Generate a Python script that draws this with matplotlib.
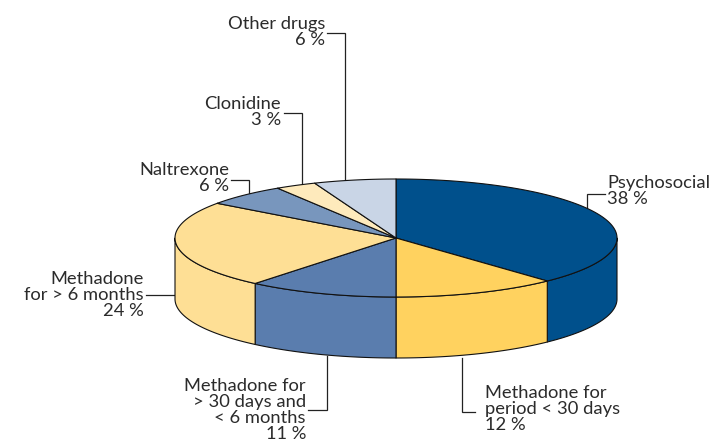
import numpy as np
import matplotlib
matplotlib.use('Agg')
import matplotlib.pyplot as plt

# slices, clockwise from 12 o'clock
names = ['Psychosocial', 'Methadone for\nperiod < 30 days', 'Methadone for\n> 30 days and\n< 6 months',
         'Methadone\nfor > 6 months', 'Naltrexone', 'Clonidine', 'Other drugs']
values = [38, 12, 11, 24, 6, 3, 6]
colors = ['#00508c', '#ffd25f', '#5a7dae', '#fedf95', '#7896bd', '#feeabc', '#c9d5e6']

# label anchor (x, y of the block centre), alignment
label_pos = [(607, 191), (485, 409), (306, 410), (144, 295), (229, 178), (281, 112), (325, 32)]
label_ha = ['left', 'left', 'right', 'right', 'right', 'right', 'right']
# leader lines
leaders_x = [[605, 587, 587], [475, 462, 462], [308, 327, 327], [146, 175],
             [231, 249, 249], [284, 302, 302], [327, 345, 345]]
leaders_y = [[194, 194, 209], [412, 412, 358], [410, 410, 356], [295, 295],
             [180, 180, 194], [113, 113, 185], [33, 33, 181]]

cx, cy = 396, 238
rx, ry = 221, 59
depth = 61
line_col = '#111111'

plt.rcParams['font.family'] = ['Lato', 'DejaVu Sans']

fig = plt.figure(figsize=(7.22, 4.46), dpi=100)
ax = fig.add_axes([0, 0, 1, 1])
ax.set_xlim(0, 722)
ax.set_ylim(446, 0)
ax.axis('off')


def arc(f0, f1):
    # points on the top ellipse between two fractions of the pie
    n = max(int(abs(f1 - f0) * 720), 2)
    t = np.linspace(f0, f1, n) * 2 * np.pi
    return cx + rx * np.sin(t), cy - ry * np.cos(t)


edges = np.cumsum([0] + values) / sum(values)

# side wall, only the front half of the rim shows
for i in range(len(values)):
    f0 = max(edges[i], 0.25)
    f1 = min(edges[i + 1], 0.75)
    if f1 <= f0:
        continue
    x, y = arc(f0, f1)
    ax.fill(np.r_[x, x[::-1]], np.r_[y, y[::-1] + depth], facecolor=colors[i],
            edgecolor=line_col, linewidth=0.8, joinstyle='round', zorder=2)

# top face
for i in range(len(values)):
    x, y = arc(edges[i], edges[i + 1])
    ax.fill(np.r_[cx, x], np.r_[cy, y], facecolor=colors[i],
            edgecolor=line_col, linewidth=0.8, joinstyle='round', zorder=3)

for lx, ly in zip(leaders_x, leaders_y):
    ax.plot(lx, ly, color='#222222', linewidth=0.9, solid_joinstyle='miter', zorder=1)

for name, val, (x, y), ha in zip(names, values, label_pos, label_ha):
    ax.text(x, y, f'{name}\n{val} %', ha=ha, va='center', multialignment=ha,
            fontsize=13.2, color='#2b2b2b', linespacing=1.0, zorder=4)

fig.savefig('out.png', dpi=100, facecolor='white')
